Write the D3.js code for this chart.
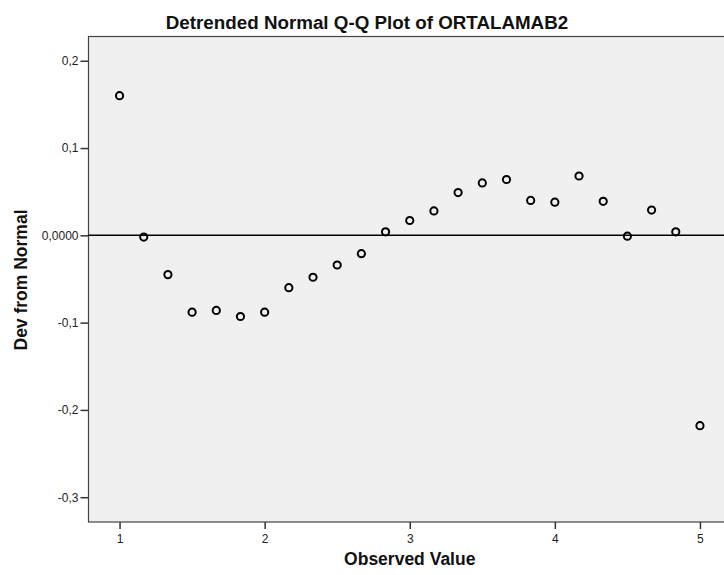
<!DOCTYPE html>
<html lang="en">
<head>
  <meta charset="UTF-8">
  <title>Detrended Normal Q-Q Plot</title>
  <style>
    body { margin: 0; background: #fff; }
    text { font-family: "Liberation Sans", Arial, sans-serif; }
  </style>
</head>
<body>
  <script src="https://cdn.jsdelivr.net/npm/d3@7"></script>
  <script>
    // observed values (step 1/6) and deviation from normal
    var observed = [1, 1.1667, 1.3333, 1.5, 1.6667, 1.8333, 2, 2.1667, 2.3333, 2.5,
                    2.6667, 2.8333, 3, 3.1667, 3.3333, 3.5, 3.6667, 3.8333, 4, 4.1667,
                    4.3333, 4.5, 4.6667, 4.8333, 5];
    var deviation = [0.160, -0.002, -0.045, -0.088, -0.086, -0.093, -0.088, -0.060, -0.048, -0.034,
                     -0.021, 0.004, 0.017, 0.028, 0.049, 0.060, 0.064, 0.040, 0.038, 0.068,
                     0.039, -0.001, 0.029, 0.004, -0.218];
    var xTicks = [1, 2, 3, 4, 5];
    var yTicks = [0.2, 0.1, 0, -0.1, -0.2, -0.3];
    var yTickLabels = ["0,2", "0,1", "0,0000", "-0,1", "-0,2", "-0,3"];

    var width = 724, height = 575;
    var svg = d3.select("body").append("svg")
      .attr("width", width)
      .attr("height", height);

    // plot frame (right side runs past the window, like the original)
    var box = {left: 88.5, right: 731, top: 36.5, bottom: 522};

    var x = d3.scaleLinear().domain([0.786, 5.214]).range([box.left, box.right]);
    var y = d3.scaleLinear().domain([-0.3284, 0.2278]).range([box.bottom, box.top]);

    svg.append("rect")
      .attr("x", box.left).attr("y", box.top)
      .attr("width", box.right - box.left).attr("height", box.bottom - box.top)
      .attr("fill", "#f0f0f0")
      .attr("stroke", "#444").attr("stroke-width", 1.2);

    // axes
    var yAxis = d3.axisLeft(y).tickValues(yTicks).tickSize(8).tickPadding(2)
      .tickFormat(function(d, i) { return yTickLabels[i]; });
    var gy = svg.append("g").attr("transform", "translate(" + box.left + ",0)").call(yAxis);
    gy.select(".domain").remove();

    var xAxis = d3.axisBottom(x).tickValues(xTicks).tickSize(7).tickPadding(5)
      .tickFormat(d3.format("d"));
    var gx = svg.append("g").attr("transform", "translate(0," + box.bottom + ")").call(xAxis);
    gx.select(".domain").remove();

    svg.selectAll(".tick line").attr("stroke", "#333").attr("stroke-width", 1.5);
    svg.selectAll(".tick text")
      .attr("fill", "#222")
      .attr("font-size", "12px")
      .style("font-family", "'Liberation Sans', Arial, sans-serif");

    // zero reference line
    svg.append("line")
      .attr("x1", box.left).attr("x2", box.right)
      .attr("y1", y(0)).attr("y2", y(0))
      .attr("stroke", "#000").attr("stroke-width", 1.5);

    // points
    svg.selectAll("circle.pt")
      .data(observed)
      .enter()
      .append("circle")
      .attr("class", "pt")
      .attr("cx", function(d) { return x(d); })
      .attr("cy", function(d, i) { return y(deviation[i]); })
      .attr("r", 3.6)
      .attr("fill", "none")
      .attr("stroke", "#000")
      .attr("stroke-width", 2);

    // titles
    svg.append("text")
      .attr("x", 367).attr("y", 29)
      .attr("text-anchor", "middle")
      .attr("font-size", "18.8px")
      .attr("font-weight", "bold")
      .attr("fill", "#111")
      .text("Detrended Normal Q-Q Plot of ORTALAMAB2");

    svg.append("text")
      .attr("x", x(3)).attr("y", 565)
      .attr("text-anchor", "middle")
      .attr("font-size", "17.5px")
      .attr("font-weight", "bold")
      .attr("fill", "#111")
      .text("Observed Value");

    svg.append("text")
      .attr("transform", "translate(27,280) rotate(-90)")
      .attr("text-anchor", "middle")
      .attr("font-size", "17.5px")
      .attr("font-weight", "bold")
      .attr("fill", "#111")
      .text("Dev from Normal");
  </script>
</body>
</html>
